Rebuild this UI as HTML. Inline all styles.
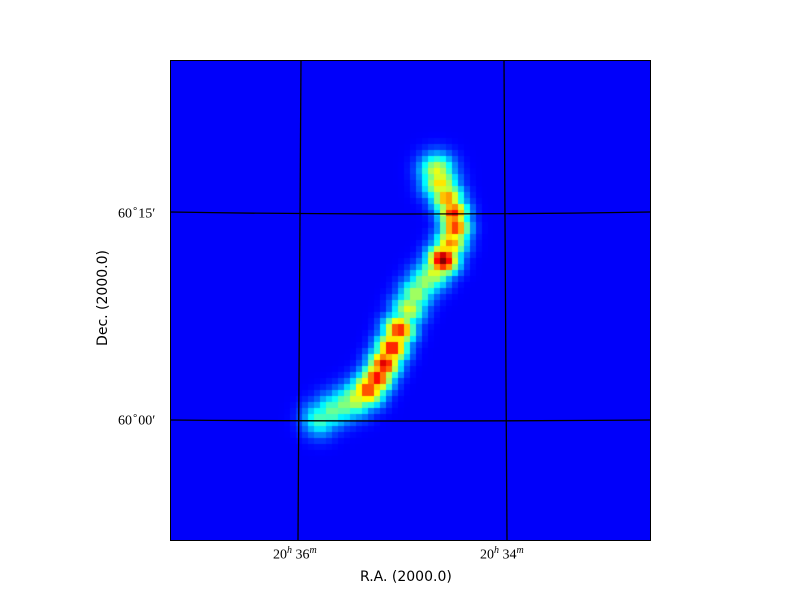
<!DOCTYPE html>
<html><head><meta charset="utf-8">
<style>
body{margin:0;background:#fff;width:800px;height:600px;overflow:hidden;position:relative;font-family:"DejaVu Sans","Liberation Sans",sans-serif;}
.t{position:absolute;font-family:"Liberation Serif",serif;font-size:14px;color:#000;white-space:nowrap}
sup{font-size:10px;font-style:italic}
</style></head><body>
<div style="position:absolute;left:0;top:0;width:800px;height:600px">
<canvas id="hm" width="480" height="480" style="position:absolute;left:170px;top:60px"></canvas>
<svg width="800" height="600" style="position:absolute;left:0;top:0">
<line x1="301" y1="60" x2="298" y2="540" stroke="#000" stroke-width="1.3"/>
<line x1="504" y1="60" x2="507" y2="540" stroke="#000" stroke-width="1.3"/>
<path d="M170 212 Q410 216 650 212" stroke="#000" stroke-width="1.3" fill="none"/>
<path d="M170 420 Q410 422 650 420" stroke="#000" stroke-width="1.3" fill="none"/>
<rect x="170.5" y="60.5" width="480" height="480" fill="none" stroke="#000" stroke-width="1"/>
</svg>
<div class="t" style="left:118px;top:204px">60<sup style="font-style:normal">∘</sup>15′</div>
<div class="t" style="left:118px;top:411px">60<sup style="font-style:normal">∘</sup>00′</div>
<div class="t" style="left:273px;top:545px">20<sup>h</sup> 36<sup>m</sup></div>
<div class="t" style="left:480px;top:545px">20<sup>h</sup> 34<sup>m</sup></div>
<div style="position:absolute;left:360px;top:569px;font-size:14px;white-space:nowrap">R.A. (2000.0)</div>
<div style="position:absolute;left:47px;top:290px;font-size:14px;transform:rotate(-90deg);width:112px;text-align:center;white-space:nowrap">Dec. (2000.0)</div>
</div>
<script>
const blobX=[45.0,44.5,46.2,47.2,47.5,46.8,45.5,44.0,42.5,41.0,39.8,38.2,37.0,35.7,34.5,33.0,31.0,29.0,27.0,25.0];
const blobY=[20.5,18.5,23.0,25.5,28.0,30.5,33.3,35.5,37.0,39.0,41.5,45.0,48.0,50.7,53.0,55.0,56.5,57.5,58.5,59.8];
const blobAmp=[0.62,0.55,0.72,0.85,0.82,0.72,1.0,0.55,0.48,0.5,0.55,0.85,0.88,0.9,0.88,0.82,0.55,0.45,0.42,0.38];
const blobSigma=[2.0,2.0,1.8,1.7,1.7,1.8,1.8,1.9,1.9,1.9,1.9,1.8,1.8,1.8,1.8,1.9,2.0,2.0,2.0,2.0];
const base=0.12;
function jet(v){v=Math.max(0,Math.min(1,v));
 const r=Math.max(0,Math.min(1,1.5-Math.abs(4*v-3))),g=Math.max(0,Math.min(1,1.5-Math.abs(4*v-2))),b=Math.max(0,Math.min(1,1.5-Math.abs(4*v-1)));
 return `rgb(${Math.round(r*255)},${Math.round(g*255)},${Math.round(b*255)})`;}
const cv=document.getElementById('hm'),ctx=cv.getContext('2d');
const N=80,cs=480/N;
for(let j=0;j<N;j++)for(let i=0;i<N;i++){
 let m=0;
 for(let k=0;k<blobX.length;k++){const dx=i+0.5-blobX[k],dy=j+0.5-blobY[k];const v=blobAmp[k]*Math.exp(-(dx*dx+dy*dy)/(2*blobSigma[k]*blobSigma[k]));if(v>m)m=v;}
 ctx.fillStyle=jet(base+m*0.88);
 ctx.fillRect(i*cs,j*cs,cs,cs);
}
</script>
</body></html>
